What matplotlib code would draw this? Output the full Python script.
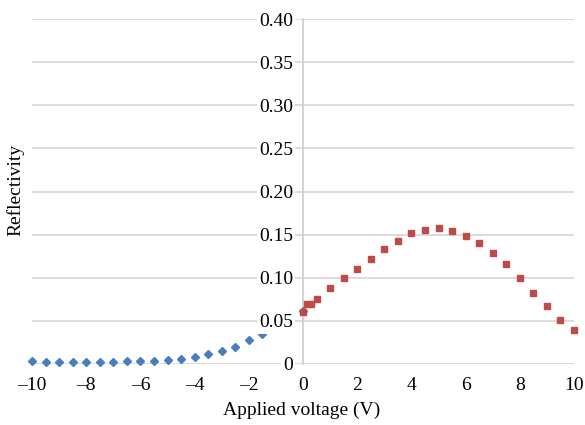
import matplotlib
matplotlib.use("Agg")
import matplotlib.pyplot as plt
import numpy as np

# Blue series (negative voltages)
neg_v = [-10, -9.5, -9, -8.5, -8, -7.5, -7, -6.5, -6, -5.5, -5, -4.5, -4, -3.5,
         -3, -2.5, -2, -1.5, -1, -0.5, 0]
neg_r = [0.003, 0.0027, 0.0027, 0.0023, 0.0023, 0.0023, 0.0023, 0.003, 0.003,
         0.0035, 0.0046, 0.0058, 0.008, 0.0119, 0.0154, 0.020, 0.0273, 0.035,
         0.043, 0.052, 0.062]

# Red series (positive voltages)
pos_v = [0, 0.15, 0.3, 0.5, 1, 1.5, 2, 2.5, 3, 3.5, 4, 4.5, 5, 5.5, 6, 6.5, 7,
         7.5, 8, 8.5, 9, 9.5, 10]
pos_r = [0.0606, 0.0692, 0.0699, 0.0754, 0.0881, 0.0994, 0.1105, 0.1217, 0.133,
         0.1426, 0.1515, 0.155, 0.158, 0.1542, 0.1484, 0.1406, 0.1283, 0.1156,
         0.100, 0.0827, 0.0672, 0.051, 0.039]

x_ticks = [-10, -8, -6, -4, -2, 0, 2, 4, 6, 8, 10]
x_labels = ["\u201310", "\u20138", "\u20136", "\u20134", "\u20132", "0", "2", "4", "6", "8", "10"]
y_ticks = [0, 0.05, 0.10, 0.15, 0.20, 0.25, 0.30, 0.35, 0.40]
y_labels = ["0", "0.05", "0.10", "0.15", "0.20", "0.25", "0.30", "0.35", "0.40"]

plt.rcParams['font.family'] = ['Liberation Serif', 'DejaVu Serif']

fig = plt.figure(figsize=(5.85, 4.25), dpi=100)
W, H = 585, 425
ax = fig.add_axes([32 / W, 1 - 364 / H, (574 - 32) / W, (364 - 19) / H])

ax.set_xlim(-10, 10)
ax.set_ylim(0, 0.40)

for s in ['top', 'right', 'bottom']:
    ax.spines[s].set_visible(False)
ax.spines['left'].set_position(('data', 0))
ax.spines['left'].set_color('#d0d0d0')
ax.spines['left'].set_linewidth(1.3)
ax.spines['left'].set_zorder(1)

ax.set_yticks(y_ticks)
ax.set_yticklabels(y_labels, fontsize=14)
ax.set_xticks(x_ticks)
ax.set_xticklabels(x_labels, fontsize=14)
ax.tick_params(axis='y', length=0, pad=7)
ax.tick_params(axis='x', length=0, pad=9)
for lab in ax.get_yticklabels():
    lab.set_bbox(dict(facecolor='white', edgecolor='none', pad=1.5))
ax.yaxis.set_zorder(3)

for yv in y_ticks:
    ax.axhline(yv, color='#d9d9d9', linewidth=1.3, zorder=0.5)

ax.plot(neg_v, neg_r, linestyle='none', marker='D', markersize=4,
        color='#4a7ebb', zorder=2, clip_on=False)
ax.plot(pos_v, pos_r, linestyle='none', marker='s', markersize=4.3,
        color='#be4b48', zorder=2.1, clip_on=False)

fig.text(302 / W, 1 - 410 / H, "Applied voltage (V)", ha='center', va='center', fontsize=14)
fig.text(15 / W, 1 - 190 / H, "Reflectivity", ha='center', va='center',
         rotation=90, fontsize=14)

fig.savefig("out.png", dpi=100)
